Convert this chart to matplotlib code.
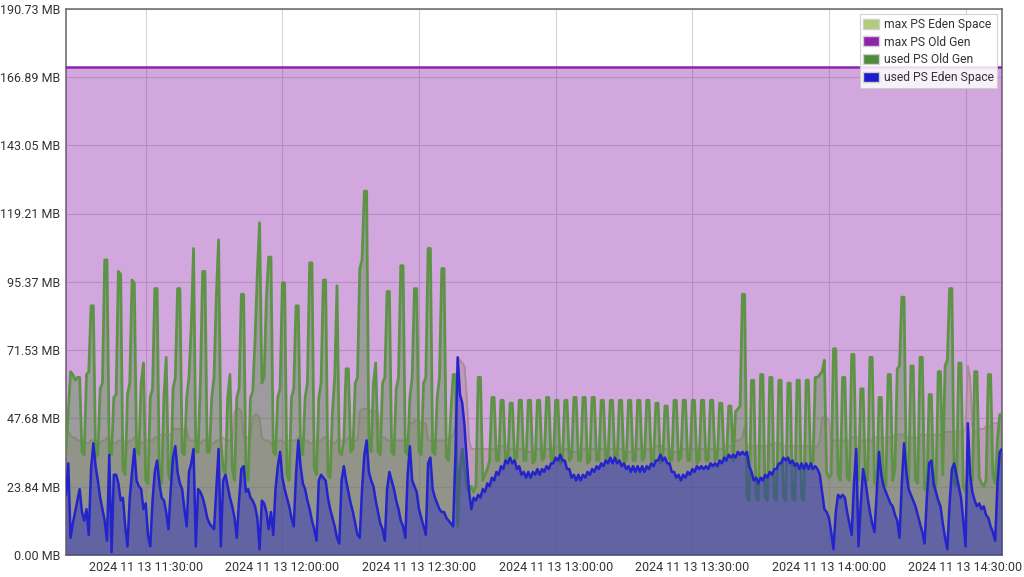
import matplotlib
matplotlib.use("Agg")
import matplotlib.pyplot as plt
import matplotlib.dates as mdates
from matplotlib.patches import Patch
import pandas as pd

# samples every 30 s, starting 2024-11-13 11:12:30
start = "2024-11-13 11:12:30"

max_old_gen = 170.5  # MB

used_eden = [
    21, 32, 6, 11, 15, 19, 23, 15, 12, 16, 7, 30, 39, 31, 26, 20, 16, 12, 5, 35,
    1, 28, 28, 25, 19, 20, 10, 3, 20, 29, 37, 26, 24, 23, 16, 18, 7, 3, 19, 29,
    33, 25, 20, 19, 15, 9, 23, 34, 38, 29, 25, 23, 16, 10, 29, 32, 37, 3, 23, 22,
    20, 17, 13, 11, 10, 9, 23, 37, 3, 26, 28, 24, 20, 17, 13, 6, 19, 30, 31, 22,
    23, 20, 19, 17, 13, 2, 19, 18, 15, 9, 15, 7, 23, 31, 36, 27, 23, 20, 17, 13,
    10, 28, 40, 31, 25, 23, 19, 16, 12, 9, 5, 26, 28, 27, 26, 20, 16, 13, 10, 6,
    4, 26, 31, 26, 22, 18, 15, 11, 7, 6, 23, 35, 40, 29, 26, 24, 19, 15, 11, 9,
    5, 23, 29, 26, 23, 19, 16, 12, 10, 6, 28, 38, 26, 24, 22, 16, 13, 10, 7, 32,
    34, 23, 20, 18, 16, 15, 15, 13, 12, 11, 10, 35, 69, 56, 53, 45, 33, 22, 16, 20,
    19, 21, 20, 23, 22, 25, 24, 27, 26, 29, 28, 31, 30, 33, 32, 34, 32, 33, 30, 31,
    28, 29, 27, 29, 27, 29, 28, 30, 28, 30, 29, 31, 30, 32, 32, 34, 33, 35, 33, 33,
    30, 30, 27, 28, 26, 28, 26, 28, 27, 29, 28, 30, 29, 31, 30, 32, 31, 33, 32, 34,
    32, 34, 32, 33, 31, 32, 30, 31, 29, 31, 29, 31, 29, 31, 29, 31, 30, 32, 31, 33,
    33, 35, 33, 34, 32, 32, 29, 29, 27, 28, 26, 28, 27, 29, 28, 30, 29, 31, 30, 31,
    30, 31, 30, 32, 31, 32, 31, 33, 32, 34, 33, 35, 34, 35, 34, 36, 35, 36, 35, 36,
    31, 29, 26, 27, 25, 27, 26, 28, 27, 29, 28, 30, 30, 32, 32, 34, 33, 34, 32, 33,
    31, 32, 30, 32, 30, 32, 30, 32, 30, 31, 30, 28, 22, 16, 15, 13, 8, 2, 15, 21,
    20, 21, 20, 15, 11, 7, 25, 37, 3, 18, 30, 26, 20, 15, 11, 8, 22, 36, 28, 24,
    22, 20, 18, 17, 14, 12, 6, 25, 39, 29, 23, 21, 19, 17, 14, 11, 8, 4, 20, 32,
    33, 25, 22, 19, 17, 11, 6, 2, 18, 30, 32, 28, 24, 20, 12, 3, 46, 28, 22, 19,
    17, 18, 16, 17, 14, 13, 10, 8, 5, 25, 36, 37,
]

used_old = [
    36, 50, 64, 63, 61, 62, 62, 36, 35, 63, 64, 87, 87, 34, 35, 58, 60, 103, 103, 36,
    35, 55, 56, 99, 98, 30, 28, 56, 60, 96, 95, 36, 35, 60, 67, 26, 25, 55, 58, 93,
    93, 26, 25, 55, 69, 28, 26, 58, 62, 93, 93, 36, 35, 55, 62, 80, 107, 36, 36, 60,
    99, 99, 36, 36, 55, 62, 90, 110, 40, 30, 28, 55, 63, 30, 26, 55, 58, 91, 91, 28,
    26, 55, 57, 75, 98, 116, 60, 62, 90, 104, 104, 36, 35, 55, 58, 95, 95, 28, 26, 55,
    58, 87, 87, 36, 35, 55, 60, 102, 102, 30, 28, 55, 60, 96, 96, 28, 27, 50, 62, 94,
    36, 35, 40, 65, 65, 36, 37, 60, 62, 100, 103, 127, 127, 38, 36, 60, 67, 36, 35, 60,
    62, 92, 92, 36, 35, 58, 62, 101, 101, 36, 35, 55, 62, 93, 93, 36, 35, 60, 62, 107,
    107, 36, 35, 55, 62, 100, 100, 34, 33, 50, 63, 63, 10, 30, 37, 30, 24, 22, 24, 22,
    24, 62, 62, 26, 28, 30, 33, 55, 55, 33, 33, 54, 54, 33, 32, 53, 53, 33, 34, 54,
    54, 33, 33, 54, 54, 32, 33, 54, 54, 33, 34, 55, 55, 33, 33, 54, 54, 32, 33, 54,
    54, 33, 34, 55, 55, 33, 33, 55, 55, 32, 33, 55, 55, 33, 33, 54, 54, 33, 34, 54,
    54, 33, 33, 54, 54, 32, 33, 54, 54, 33, 33, 54, 54, 33, 34, 54, 54, 33, 33, 53,
    53, 32, 33, 52, 52, 33, 33, 54, 54, 33, 34, 54, 54, 33, 33, 54, 54, 32, 33, 54,
    54, 33, 33, 54, 54, 33, 34, 53, 53, 33, 33, 52, 52, 33, 50, 51, 52, 91, 91, 20,
    19, 61, 61, 20, 19, 63, 63, 20, 19, 62, 62, 20, 19, 61, 61, 20, 19, 60, 60, 20,
    19, 61, 61, 20, 19, 61, 61, 30, 32, 62, 62, 63, 64, 68, 29, 27, 28, 72, 72, 28,
    26, 62, 62, 27, 26, 70, 70, 27, 26, 58, 58, 27, 26, 69, 69, 25, 24, 55, 55, 25,
    24, 63, 63, 26, 30, 65, 66, 90, 90, 27, 25, 66, 66, 26, 25, 69, 69, 23, 22, 56,
    56, 24, 24, 64, 64, 28, 66, 68, 93, 93, 25, 24, 67, 67, 24, 22, 30, 28, 26, 64,
    64, 27, 25, 24, 26, 63, 63, 28, 25, 40, 49, 49,
]

max_eden = [
    44, 43, 42, 41, 41, 40, 40, 40, 40, 39, 39, 40, 40, 40, 39, 39, 40, 40, 41, 40,
    40, 39, 39, 40, 40, 40, 39, 39, 40, 40, 41, 40, 40, 39, 39, 40, 40, 40, 40, 41,
    41, 42, 42, 42, 42, 42, 42, 44, 44, 44, 44, 44, 44, 44, 40, 40, 40, 40, 39, 39,
    40, 40, 40, 40, 39, 39, 40, 40, 41, 41, 40, 40, 40, 40, 50, 51, 51, 50, 41, 41,
    41, 40, 48, 49, 49, 48, 41, 40, 40, 40, 39, 39, 40, 40, 40, 40, 39, 39, 40, 40,
    40, 40, 41, 41, 40, 40, 40, 39, 39, 40, 40, 40, 40, 41, 41, 40, 40, 39, 39, 40,
    40, 40, 40, 40, 41, 41, 40, 40, 40, 50, 51, 51, 51, 51, 50, 50, 50, 50, 41, 41,
    41, 40, 40, 40, 40, 40, 40, 40, 40, 40, 41, 46, 46, 47, 47, 47, 46, 46, 46, 40,
    40, 40, 40, 40, 40, 40, 40, 40, 41, 41, 42, 45, 69, 68, 67, 66, 55, 40, 37, 37,
    37, 37, 37, 37, 37, 37, 37, 37, 37, 38, 38, 38, 38, 38, 38, 37, 37, 37, 37, 37,
    37, 37, 37, 36, 36, 36, 37, 37, 37, 37, 37, 37, 37, 37, 37, 38, 38, 38, 37, 37,
    37, 37, 36, 36, 36, 36, 37, 37, 37, 37, 37, 37, 37, 37, 37, 37, 37, 37, 37, 37,
    37, 37, 37, 37, 37, 36, 36, 36, 36, 37, 37, 37, 37, 37, 37, 37, 37, 37, 37, 38,
    38, 38, 38, 37, 37, 37, 36, 36, 36, 36, 37, 37, 37, 37, 37, 37, 37, 37, 37, 37,
    37, 37, 37, 37, 37, 37, 37, 37, 37, 38, 38, 38, 38, 39, 40, 40, 40, 41, 45, 38,
    38, 38, 38, 38, 38, 38, 38, 38, 38, 38, 39, 39, 39, 39, 38, 38, 38, 38, 38, 38,
    38, 38, 38, 38, 38, 38, 38, 38, 38, 38, 38, 40, 48, 48, 48, 47, 40, 40, 40, 40,
    40, 40, 40, 40, 40, 41, 41, 41, 41, 40, 40, 40, 40, 40, 40, 41, 41, 41, 41, 41,
    41, 41, 41, 41, 42, 42, 42, 42, 42, 41, 41, 41, 41, 41, 41, 42, 42, 42, 42, 42,
    42, 42, 42, 42, 42, 42, 43, 43, 43, 43, 43, 43, 43, 43, 43, 44, 66, 62, 45, 43,
    43, 44, 44, 44, 45, 45, 45, 46, 46, 46, 47, 47,
]

times = pd.date_range(start, periods=len(used_eden), freq="30s")

# y ticks: every 25,000,000 bytes shown in MiB
ytick_vals = [k * 25e6 / 1048576 for k in range(9)]
xtick_times = pd.date_range("2024-11-13 11:30:00", "2024-11-13 14:30:00", freq="30min")

c_max_eden = "#b3c97c"
c_max_old = "#8e24aa"
c_used_old = "#4f8a3d"
c_used_eden = "#1c1cc8"

plt.rcParams["font.family"] = ["Roboto", "DejaVu Sans"]

fig = plt.figure(figsize=(10.24, 5.77), dpi=100)
ax = fig.add_axes([66 / 1024, 22 / 577, 936 / 1024, 546.4 / 577])

ax.fill_between(times, 0, max_eden, color=c_max_eden, alpha=0.4, lw=0, zorder=2)
ax.plot(times, max_eden, color=c_max_eden, lw=1.4, alpha=0.8, zorder=2)
ax.fill_between(times, 0, max_old_gen, color=c_max_old, alpha=0.4, lw=0, zorder=3)
ax.axhline(max_old_gen, color=c_max_old, lw=1.8, zorder=3)
ax.fill_between(times, 0, used_old, color=c_used_old, alpha=0.4, lw=0, zorder=4)
ax.plot(times, used_old, color="#5e9347", lw=2.0, zorder=4)
ax.fill_between(times, 0, used_eden, color=c_used_eden, alpha=0.4, lw=0, zorder=5)
ax.plot(times, used_eden, color="#2424cc", lw=1.8, zorder=5)

ax.set_xlim(times[0], times[-1])
ax.set_ylim(0, ytick_vals[-1])
ax.set_yticks(ytick_vals)
ax.set_yticklabels(["%.2f MB" % v for v in ytick_vals])
ax.set_xticks(xtick_times)
ax.xaxis.set_major_formatter(mdates.DateFormatter("%Y %m %d %H:%M:%S"))
ax.tick_params(length=0, labelsize=9, labelcolor="#333333", pad=4)
ax.grid(True, color="#d4d4d4", lw=0.8, zorder=0)
ax.set_axisbelow(True)
for s in ax.spines.values():
    s.set_color("#707070")
    s.set_linewidth(1.2)

handles = [
    Patch(facecolor=c_max_eden, edgecolor="#d0d0d0", label="max PS Eden Space"),
    Patch(facecolor=c_max_old, edgecolor="#d0d0d0", label="max PS Old Gen"),
    Patch(facecolor=c_used_old, edgecolor="#d0d0d0", label="used PS Old Gen"),
    Patch(facecolor=c_used_eden, edgecolor="#d0d0d0", label="used PS Eden Space"),
]
leg = ax.legend(handles=handles, loc="upper right", bbox_to_anchor=(0.995, 0.99),
                borderaxespad=0, fontsize=8.7, frameon=True, fancybox=False,
                handlelength=1.3, handleheight=0.9, handletextpad=0.4,
                labelspacing=0.4, borderpad=0.3, framealpha=0.85)
leg.get_frame().set_edgecolor("#cccccc")
leg.get_frame().set_linewidth(0.8)
for t in leg.get_texts():
    t.set_color("#333333")
leg.set_zorder(10)

fig.savefig("out.png", dpi=100)
